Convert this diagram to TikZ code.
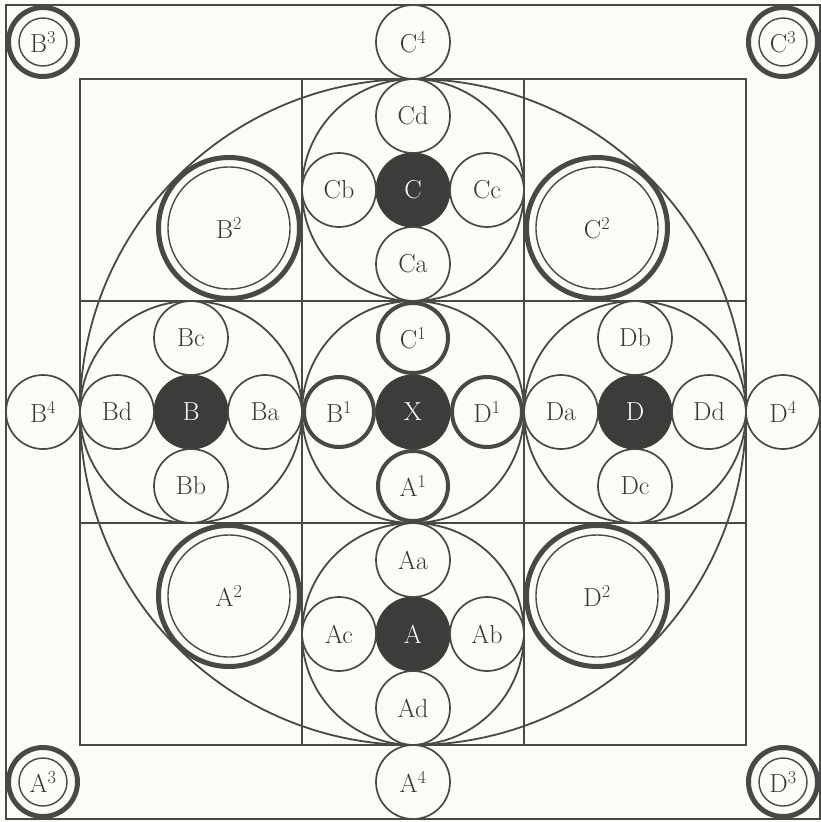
\documentclass[tikz,border=0pt]{standalone}
\definecolor{ink}{RGB}{72,72,70}
\definecolor{txt}{RGB}{55,55,53}
\definecolor{paper}{RGB}{252,252,246}
\definecolor{dot}{RGB}{60,60,58}
\begin{document}
\begin{tikzpicture}[x=1pt,y=-1pt,
  lbl/.style={font=\fontsize{26}{28}\selectfont, text=txt},
  sm/.style={circle,draw=ink,line width=1.7pt,minimum size=74pt,inner sep=0pt,lbl},
  ring/.style={circle,draw=ink,line width=4pt,minimum size=70pt,inner sep=0pt,lbl},
  hub/.style={circle,fill=dot,draw=dot,line width=1pt,minimum size=74pt,inner sep=0pt,lbl,text=white},
  innerthree/.style={circle,draw=ink,line width=1.4pt,minimum size=48pt,inner sep=0pt,lbl},
  innertwo/.style={circle,draw=ink,line width=1.4pt,minimum size=122pt,inner sep=0pt,lbl},
  thinline/.style={draw=ink,line width=1.8pt},
  thickring/.style={draw=ink,line width=5pt}]
\fill[paper] (0,0) rectangle (821,822);
\useasboundingbox (0,0) rectangle (821,822);
% frames and grid
\draw[thinline] (6,5) rectangle (820,819);
\draw[thinline] (80,79) rectangle (746,745);
\draw[thinline] (302,79) -- (302,745);
\draw[thinline] (524,79) -- (524,745);
\draw[thinline] (80,301) -- (746,301);
\draw[thinline] (80,523) -- (746,523);
% big circle and cell circles
\draw[thinline] (413,412) circle[radius=333pt];
\draw[thinline] (413,412) circle[radius=111pt];
\draw[thinline] (413,190) circle[radius=111pt];
\draw[thinline] (413,634) circle[radius=111pt];
\draw[thinline] (191,412) circle[radius=111pt];
\draw[thinline] (635,412) circle[radius=111pt];
% C cell
\node[hub] (C) at (413,190) {C};
\node[sm] (Cd) at (413,116) {Cd};
\node[sm] (Ca) at (413,264) {Ca};
\node[sm] (Cb) at (339,190) {Cb};
\node[sm] (Cc) at (487,190) {Cc};
% B cell
\node[hub] (B) at (191,412) {B};
\node[sm] (Bc) at (191,338) {Bc};
\node[sm] (Bb) at (191,486) {Bb};
\node[sm] (Bd) at (117,412) {Bd};
\node[sm] (Ba) at (265,412) {Ba};
% D cell
\node[hub] (D) at (635,412) {D};
\node[sm] (Db) at (635,338) {Db};
\node[sm] (Dc) at (635,486) {Dc};
\node[sm] (Da) at (561,412) {Da};
\node[sm] (Dd) at (709,412) {Dd};
% A cell
\node[hub] (A) at (413,634) {A};
\node[sm] (Aa) at (413,560) {Aa};
\node[sm] (Ad) at (413,708) {Ad};
\node[sm] (Ac) at (339,634) {Ac};
\node[sm] (Ab) at (487,634) {Ab};
% centre cell
\node[hub] (X) at (413,412) {X};
\node[ring] (C1) at (413,338) {C\textsuperscript{1}};
\node[ring] (A1) at (413,486) {A\textsuperscript{1}};
\node[ring] (B1) at (339,412) {B\textsuperscript{1}};
\node[ring] (D1) at (487,412) {D\textsuperscript{1}};
% corner double circles
\node[innertwo] (B2) at (229,228) {B\textsuperscript{2}};
\node[innertwo] (C2) at (597,228) {C\textsuperscript{2}};
\node[innertwo] (A2) at (229,596) {A\textsuperscript{2}};
\node[innertwo] (D2) at (597,596) {D\textsuperscript{2}};
\foreach \n in {B2,C2,A2,D2} \draw[thickring] (\n.center) circle[radius=70.5pt];
% outer corners
\node[innerthree] (B3) at (43,42) {B\textsuperscript{3}};
\node[innerthree] (C3) at (783,42) {C\textsuperscript{3}};
\node[innerthree] (A3) at (43,782) {A\textsuperscript{3}};
\node[innerthree] (D3) at (783,782) {D\textsuperscript{3}};
\foreach \n in {B3,C3,A3,D3} \draw[thickring] (\n.center) circle[radius=34.5pt];
% edge circles
\node[sm] (C4) at (413,42) {C\textsuperscript{4}};
\node[sm] (B4) at (43,412) {B\textsuperscript{4}};
\node[sm] (D4) at (783,412) {D\textsuperscript{4}};
\node[sm] (A4) at (413,782) {A\textsuperscript{4}};
\end{tikzpicture}
\end{document}
